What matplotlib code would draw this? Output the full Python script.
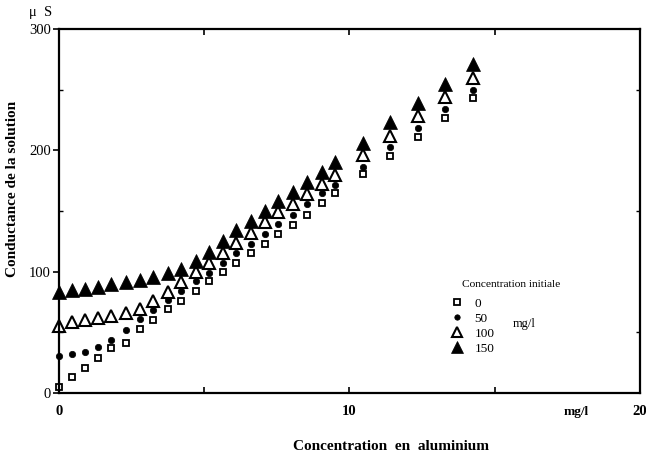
"""Conductance of the solution versus added aluminium, one series per initial concentration."""

import matplotlib
matplotlib.use("Agg")
import matplotlib.pyplot as plt
from matplotlib.ticker import FixedLocator

plt.rcParams["font.family"] = ["Liberation Serif", "DejaVu Serif"]

# aluminium added (mg/l)
alu = [0, 0.45, 0.9, 1.35, 1.8, 2.3, 2.8, 3.25, 3.75, 4.2, 4.7, 5.15, 5.65,
       6.1, 6.6, 7.1, 7.55, 8.05, 8.55, 9.05, 9.5, 10.45, 11.4, 12.35, 13.3, 14.25]

# conductance (uS) for each initial concentration
cond_0 = [5, 13.5, 21, 29, 37, 41, 52.5, 60, 69, 76, 84, 92, 100,
          107, 115, 122.5, 131, 138.5, 147, 157, 164.5, 180.5, 195.5, 211, 226.5, 243]
cond_50 = [30.5, 32, 34, 38, 44, 52, 61, 68.5, 77, 84, 92, 99, 107,
           115, 123, 131, 139, 147, 156, 164.5, 171.5, 186.5, 203, 218, 234, 250]
cond_100 = [55, 58.5, 60, 62, 63.5, 66, 69, 75.5, 83.5, 91.8, 99.5, 107.5, 115.5,
            124, 132, 141, 149, 156, 164, 172, 180, 196, 212, 228, 244, 260]
cond_150 = [83, 84.5, 86, 87.5, 89.5, 91.5, 93.5, 95.5, 98.5, 102.5, 108.5, 116.5, 125.5,
            134, 142, 150, 158.5, 166, 174, 182, 190, 206, 223.5, 239, 254.5, 271]

labels = ["0", "50", "100", "150"]
x_ticks = [0, 10, 20]
y_ticks = [0, 100, 200, 300]

fig = plt.figure(figsize=(6.46, 4.59), dpi=100)
ax = fig.add_axes([0.0913, 0.1438, 0.8994, 0.793])

styles = [
    dict(marker="s", ms=4.6, mfc="white", mec="black", mew=1.3),
    dict(marker="o", ms=4.6, mfc="black", mec="black", mew=0.5),
    dict(marker="^", ms=8.5, mfc="white", mec="black", mew=1.5),
    dict(marker="^", ms=9.5, mfc="black", mec="black", mew=0.5),
]
handles = []
for ys, lab, st in zip([cond_0, cond_50, cond_100, cond_150], labels, styles):
    h, = ax.plot(alu, ys, linestyle="none", label=lab, clip_on=False, **st)
    handles.append(h)

ax.set_xlim(0, 20)
ax.set_ylim(0, 300)

for side in ax.spines.values():
    side.set_linewidth(1.6)

ax.xaxis.set_major_locator(FixedLocator(x_ticks))
ax.xaxis.set_minor_locator(FixedLocator([5, 15]))
ax.yaxis.set_major_locator(FixedLocator(y_ticks))
ax.yaxis.set_minor_locator(FixedLocator([50, 150, 250]))
ax.tick_params(axis="x", which="both", direction="in", top=True, length=4, width=1.2,
               pad=9, labelsize=10.5)
ax.tick_params(axis="y", which="major", direction="out", length=4, width=1.2,
               pad=2, labelsize=10.5)
ax.tick_params(axis="y", which="minor", direction="in", right=True, length=3, width=1)
for t in ax.get_xticklabels():
    t.set_fontweight("bold")

ax.set_xlabel("Concentration  en  aluminium", fontsize=11, fontweight="bold")
ax.xaxis.set_label_coords(0.571, -0.128)
ax.set_ylabel("Conductance de la solution", fontsize=11, fontweight="bold")
ax.yaxis.set_label_coords(-0.068, 0.56)

ax.text(-0.031, 1.044, "\u03bc  S", transform=ax.transAxes, fontsize=10.5,
        ha="center", va="center")
ax.text(17.8, -0.052, "mg/l", transform=ax.get_xaxis_transform(), fontsize=9.5,
        fontweight="bold", ha="center", va="center")

ax.legend(handles=handles, loc="upper left", bbox_to_anchor=(0.665, 0.281),
          frameon=False, fontsize=9.5, handlelength=0.8, handletextpad=0.9,
          labelspacing=0.22, borderpad=0, markerscale=0.85)
ax.text(0.778, 0.297, "Concentration initiale", transform=ax.transAxes,
        fontsize=8.2, ha="center", va="center")
ax.text(0.8, 0.19, "mg/l", transform=ax.transAxes, fontsize=9, ha="center", va="center")

fig.savefig("out.png", dpi=100)
